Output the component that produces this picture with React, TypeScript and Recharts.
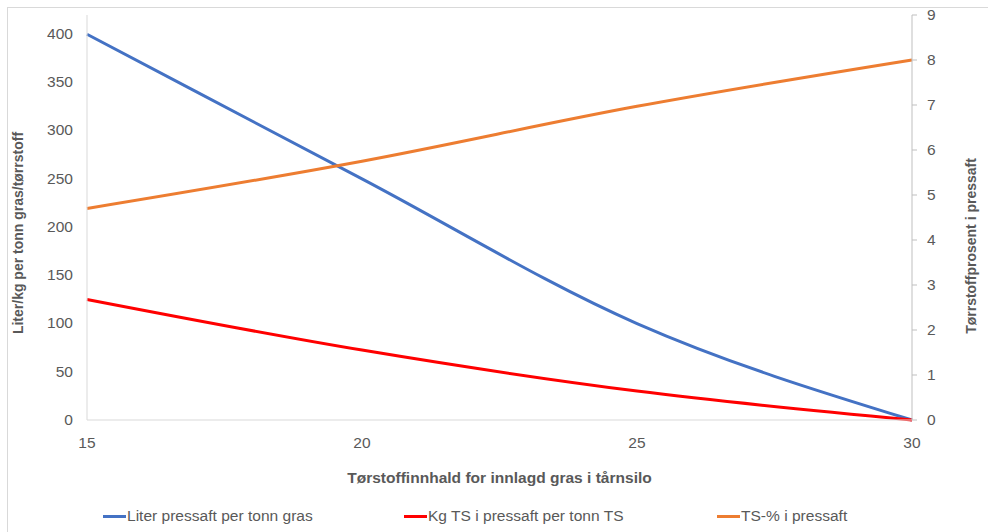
import React from 'react';
import { LineChart, Line, XAxis, YAxis, Label } from 'recharts';

const tsInnhald = [15, 20, 25, 30];
const literPressaft = [400, 250, 100, 0];
const kgTsPressaft = [125, 72.5, 30, 0];
const tsProsentPressaft = [4.7, 5.75, 6.97, 8.0];

const xTicks = [15, 20, 25, 30];
const leftTicks = [0, 50, 100, 150, 200, 250, 300, 350, 400];
const rightTicks = [0, 1, 2, 3, 4, 5, 6, 7, 8, 9];

const series = [
  { key: 'liter', name: 'Liter pressaft per tonn gras', color: '#4472C4', axis: 'left' },
  { key: 'kg', name: 'Kg TS i pressaft per tonn TS', color: '#FF0000', axis: 'left' },
  { key: 'ts', name: 'TS-% i pressaft', color: '#ED7D31', axis: 'right' },
];

const data = tsInnhald.map((x, i) => ({
  x,
  liter: literPressaft[i],
  kg: kgTsPressaft[i],
  ts: tsProsentPressaft[i],
}));

const FONT = '"Liberation Sans", Arial, sans-serif';
const GREY = '#595959';
const STRETCH = 1.11; // the reference text is a bit wider than plain Arial

// text drawn at (x, y), stretched sideways like the original picture
const Wide = ({ x, y, anchor, baseline, size, bold, rotate, children }: any) => (
  <text
    transform={`translate(${x}, ${y}) scale(${STRETCH}, 1)${rotate ? ` rotate(${rotate})` : ''}`}
    textAnchor={anchor}
    dominantBaseline={baseline}
    fontFamily={FONT}
    fontSize={size}
    fontWeight={bold ? 'bold' : 'normal'}
    fill={GREY}
  >
    {children}
  </text>
);

const XTick = ({ x, y, payload }: any) => (
  <Wide x={x} y={y + 10} anchor="middle" baseline="hanging" size={14}>{payload.value}</Wide>
);
const LeftTick = ({ x, y, payload }: any) => (
  <Wide x={x} y={y} anchor="end" baseline="central" size={14}>{payload.value}</Wide>
);
const RightTick = ({ x, y, payload }: any) => (
  <Wide x={x} y={y} anchor="start" baseline="central" size={14}>{payload.value}</Wide>
);

const AxisTitle = ({ viewBox, value, dx, cy }: any) => (
  <Wide x={viewBox.x + dx} y={cy} anchor="middle" baseline="central" size={14} bold rotate={-90}>{value}</Wide>
);

const XTitle = ({ viewBox, value }: any) => (
  <Wide x={viewBox.x + viewBox.width / 2} y={478} anchor="middle" baseline="central" size={14} bold>{value}</Wide>
);

export default function App() {
  return (
    <div style={{ position: 'absolute', left: 0, top: 0, width: 988, height: 532, background: '#fff', fontFamily: FONT, overflow: 'hidden' }}>
      <div style={{ position: 'absolute', left: 7, top: 7, width: 990, height: 540, border: '1px solid #d9d9d9' }} />
      <div style={{ position: 'absolute', left: 0, top: 0 }}>
        <LineChart width={988} height={532} data={data} margin={{ top: 15, right: 0, bottom: 0, left: 0 }}>
          <XAxis
            dataKey="x"
            type="number"
            domain={[15, 30]}
            ticks={xTicks}
            height={112}
            tickLine={false}
            axisLine={{ stroke: '#d9d9d9' }}
            tick={<XTick />}
          >
            <Label content={(p: any) => <XTitle {...p} value="Tørstoffinnhald for innlagd gras i tårnsilo" />} />
          </XAxis>
          <YAxis
            yAxisId="left"
            domain={[0, 420]}
            ticks={leftTicks}
            width={87}
            tickLine={false}
            tickSize={6}
            tickMargin={8}
            axisLine={{ stroke: '#d9d9d9' }}
            tick={<LeftTick />}
          >
            <Label content={(p: any) => <AxisTitle {...p} value="Liter/kg per tonn gras/tørrstoff" dx={18} cy={233} />} />
          </YAxis>
          <YAxis
            yAxisId="right"
            orientation="right"
            domain={[0, 9]}
            ticks={rightTicks}
            width={76}
            tickSize={5}
            tickMargin={10}
            tickLine={{ stroke: '#bfbfbf' }}
            axisLine={{ stroke: '#bfbfbf' }}
            tick={<RightTick />}
          >
            <Label content={(p: any) => <AxisTitle {...p} value="Tørrstoffprosent i pressaft" dx={59} cy={246} />} />
          </YAxis>
          {series.map(s => (
            <Line
              key={s.key}
              yAxisId={s.axis}
              dataKey={s.key}
              name={s.name}
              type="monotone"
              stroke={s.color}
              strokeWidth={3}
              dot={false}
              isAnimationActive={false}
            />
          ))}
        </LineChart>
      </div>
      {series.map((s, i) => (
        <div
          key={s.key}
          style={{
            position: 'absolute',
            left: [103, 404, 717][i],
            top: 508,
            display: 'flex',
            alignItems: 'center',
            fontSize: 14,
            color: GREY,
            whiteSpace: 'nowrap',
          }}
        >
          <span style={{ display: 'inline-block', width: 23, height: 3, background: s.color }} />
          <span style={{ display: 'inline-block', transform: `scaleX(${STRETCH})`, transformOrigin: 'left center', marginLeft: 1 }}>
            {s.name}
          </span>
        </div>
      ))}
    </div>
  );
}
